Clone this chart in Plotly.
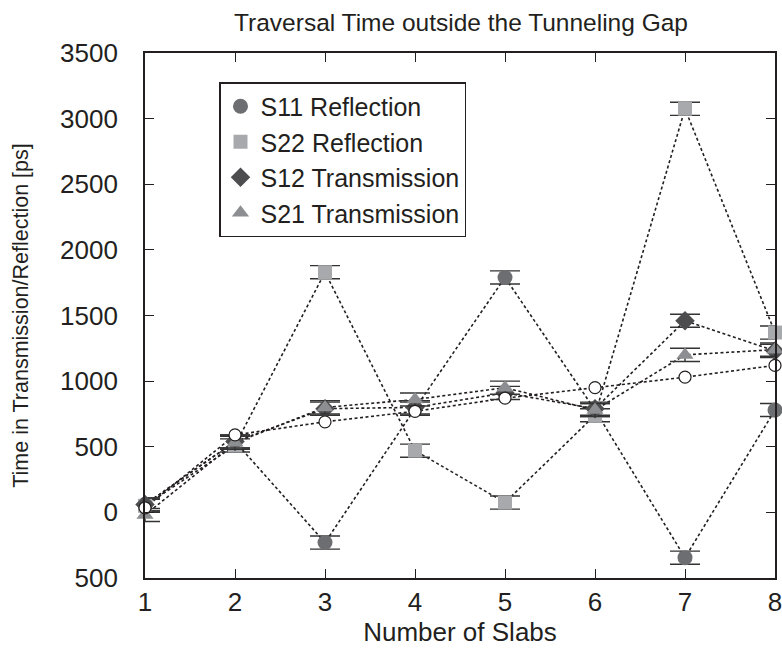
import plotly.graph_objects as go

slabs = [1, 2, 3, 4, 5, 6, 7, 8]
s11_reflection = [60, 540, -230, 790, 1790, 780, -345, 780]
s22_reflection = [50, 510, 1830, 470, 75, 740, 3075, 1370]
s12_transmission = [60, 540, 790, 800, 910, 790, 1460, 1230]
s21_transmission = [-20, 530, 800, 860, 950, 780, 1200, 1240]
average_time = [35, 590, 690, 770, 870, 950, 1030, 1120]
error = 50

y_tickvals = [-500, 0, 500, 1000, 1500, 2000, 2500, 3000, 3500]
y_ticktext = ["500", "0", "500", "1000", "1500", "2000", "2500", "3000", "3500"]

FONT = "Liberation Sans, Arial, sans-serif"
TXT = "#231f20"

series = [
    ("S11 Reflection", s11_reflection, "circle", "#6d6e71", 15),
    ("S22 Reflection", s22_reflection, "square", "#a7a9ac", 14),
    ("S12 Transmission", s12_transmission, "diamond", "#4d4d4f", 15),
    ("S21 Transmission", s21_transmission, "triangle-up", "#8c8e91", 15),
]

fig = go.Figure()

# dotted connecting lines
for name, vals, sym, col, sz in series:
    fig.add_trace(go.Scatter(x=slabs, y=vals, mode="lines", showlegend=False,
                             line=dict(color="#231f20", width=1.6, dash="3px,2.5px"),
                             hoverinfo="skip", cliponaxis=False))
fig.add_trace(go.Scatter(x=slabs, y=average_time, mode="lines", showlegend=False,
                         line=dict(color="#231f20", width=1.6, dash="3px,2.5px"),
                         hoverinfo="skip", cliponaxis=False))

# markers with error bars
for name, vals, sym, col, sz in series:
    fig.add_trace(go.Scatter(
        x=slabs, y=vals, mode="markers", name=name,
        marker=dict(symbol=sym, color=col, size=sz, line=dict(width=0)),
        error_y=dict(type="constant", value=error, color="#333333", thickness=1.4, width=15),
        cliponaxis=False))

fig.add_trace(go.Scatter(
    x=slabs, y=average_time, mode="markers", showlegend=False,
    marker=dict(symbol="circle", color="white", size=12, line=dict(color="#231f20", width=1.2)),
    cliponaxis=False))

axis_common = dict(showline=True, linecolor="#231f20", linewidth=1.8, mirror="ticks",
                   ticks="inside", ticklen=9, tickwidth=1.4, tickcolor="#231f20",
                   showgrid=False, zeroline=False, automargin=False,
                   ticklabeloverflow="allow",
                   tickfont=dict(family=FONT, size=26, color=TXT))

fig.update_layout(
    width=782, height=650,
    margin=dict(l=145, r=7, t=53, b=72),
    paper_bgcolor="white", plot_bgcolor="white",
    title=dict(text="Traversal Time outside the Tunneling Gap", x=461 / 782,
               xanchor="center", y=1 - 22 / 650, yanchor="middle",
               font=dict(family=FONT, size=24.5, color=TXT)),
    xaxis=dict(range=[1, 8], tickvals=slabs, ticklabelstandoff=0,
               title=dict(text="Number of Slabs", standoff=6,
                          font=dict(family=FONT, size=26, color=TXT)), **axis_common),
    yaxis=dict(range=[-500, 3500], tickvals=y_tickvals, ticktext=y_ticktext,
               ticklabelstandoff=20,
               title=dict(text="Time in Transmission/Reflection [ps]", standoff=26,
                          font=dict(family=FONT, size=21.5, color=TXT)), **axis_common),
    legend=dict(x=(219 - 145) / 630, y=(578 - 82) / 525, xanchor="left", yanchor="top",
                bordercolor="#231f20", borderwidth=1.5, bgcolor="white",
                font=dict(family=FONT, size=25, color=TXT),
                tracegroupgap=0, itemwidth=30),
    showlegend=True,
)

fig.write_html("out.html")
